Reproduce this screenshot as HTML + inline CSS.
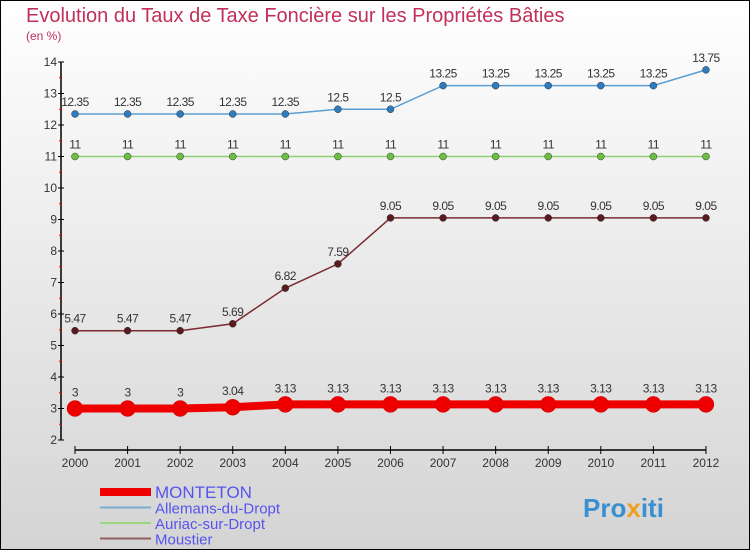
<!DOCTYPE html>
<html><head><meta charset="utf-8"><style>
body{margin:0}
#c{width:750px;height:550px;position:relative;box-sizing:border-box;border:1px solid #000;background:linear-gradient(#fff,#d4d4d4);font-family:"Liberation Sans",sans-serif;overflow:hidden}
</style></head><body>
<div id="c">
<svg id="s" width="750" height="550" style="position:absolute;left:-1px;top:-1px">
<text x="26" y="22" font-size="20" fill="#c0305a">Evolution du Taux de Taxe Foncière sur les Propriétés Bâties</text>
<text x="26" y="40" font-size="12" fill="#c0305a">(en %)</text>
<g id="axes"></g><g id="series"></g><g id="legend"></g>
<text x="583" y="517" font-size="26" font-weight="bold" fill="#3a8fd0">Pro<tspan fill="#f0a020">x</tspan>iti</text>
</svg></div>
<script>
const years=[2000,2001,2002,2003,2004,2005,2006,2007,2008,2009,2010,2011,2012];
const yTicks=[2,3,4,5,6,7,8,9,10,11,12,13,14];
const monteton=[3,3,3,3.04,3.13,3.13,3.13,3.13,3.13,3.13,3.13,3.13,3.13];
const allemans=[12.35,12.35,12.35,12.35,12.35,12.5,12.5,13.25,13.25,13.25,13.25,13.25,13.75];
const auriac=[11,11,11,11,11,11,11,11,11,11,11,11,11];
const moustier=[5.47,5.47,5.47,5.69,6.82,7.59,9.05,9.05,9.05,9.05,9.05,9.05,9.05];
const names=["MONTETON","Allemans-du-Dropt","Auriac-sur-Dropt","Moustier"];
const NS="http://www.w3.org/2000/svg";
const X=i=>75+i*52.58, Y=v=>440-(v-2)*31.5;
function mk(p,t,a){const e=document.createElementNS(NS,t);for(const k in a)e.setAttribute(k,a[k]);p.appendChild(e);return e;}
const ax=document.getElementById('axes');
let e=mk(ax,'line',{x1:61,y1:62,x2:61,y2:440,stroke:'#000','stroke-width':1.5});

e=mk(ax,'line',{x1:75,y1:450,x2:706,y2:450,stroke:'#000','stroke-width':1.5});

yTicks.forEach(v=>{
 mk(ax,'line',{x1:58,y1:Y(v),x2:64,y2:Y(v),stroke:'#000'});
 if(v<14)mk(ax,'line',{x1:59,y1:Y(v+0.5),x2:62,y2:Y(v+0.5),stroke:'#e00'});
 const t=mk(ax,'text',{x:57,y:Y(v)+4,'font-size':12,fill:'#333','text-anchor':'end'});t.textContent=v;
 
});
years.forEach((y,i)=>{
 mk(ax,'line',{x1:X(i),y1:446,x2:X(i),y2:454,stroke:'#000'});
 const t=mk(ax,'text',{x:X(i),y:467,'font-size':12,fill:'#333','text-anchor':'middle'});t.textContent=y;
 
});
const sg=document.getElementById('series');
const defs=[[allemans,'#5a9fd4','#2e7bbf',1.5,3.5,'allemans'],[auriac,'#8fd070','#6cc040',1.5,3.5,'auriac'],[moustier,'#7a2a30','#5a1a20',1.5,3.5,'moustier'],[monteton,'#e00','#e00',8,8,'monteton']];
defs.forEach(([d,lc,pc,w,r,n])=>{
 const g=mk(sg,'g',{});
 const l=mk(g,'polyline',{points:d.map((v,i)=>X(i)+','+Y(v)).join(' '),fill:'none',stroke:lc,'stroke-width':w});
 
 d.forEach((v,i)=>{
  const c=mk(g,'circle',{cx:X(i),cy:Y(v),r:r,fill:pc,stroke:n=='monteton'?'#c00':'#333','stroke-width':0.5});
  
  const t=mk(g,'text',{x:X(i),y:Y(v)-(n=='monteton'?12:8),'font-size':12,fill:'#333','text-anchor':'middle','letter-spacing':'-0.5'});
  t.textContent=v;
 });
});
const lg=document.getElementById('legend');
[['#e00',8],['#7aaed0',2],['#9ad880',2],['#906060',2]].forEach(([c,w],i)=>{
 const yy=492+i*15.5;
 const g=mk(lg,'g',{});
 mk(g,'line',{x1:100,y1:yy,x2:151,y2:yy,stroke:c,'stroke-width':w});
 const t=mk(g,'text',{x:155,y:yy+6,'font-size':i==0?17:15,fill:'#5555ee'});t.textContent=names[i];
});
</script></body></html>
